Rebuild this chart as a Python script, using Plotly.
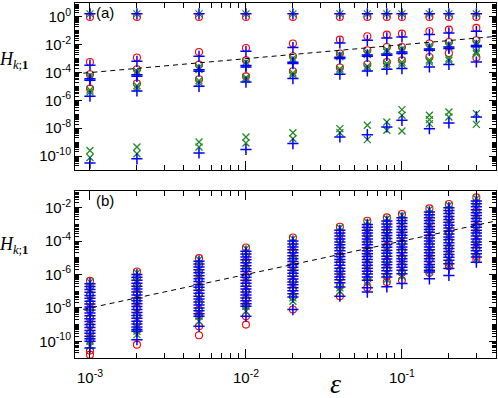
import plotly.graph_objects as go

# epsilon values (columns)
eps = [0.001, 0.002, 0.005, 0.01, 0.02, 0.04, 0.06, 0.08, 0.1, 0.15, 0.2, 0.3]

# panel (a): log10(H_k;1), one list per epsilon
red_a = [
    [0, -3.24, -4.12, -5.15],
    [0, -2.92, -3.76, -4.79],
    [0, -2.52, -3.42, -4.48],
    [0, -2.23, -3.12, -4.27],
    [0, -1.91, -2.83, -3.90],
    [0, -1.63, -2.63, -3.64],
    [0, -1.39, -2.40, -3.40],
    [0, -1.27, -2.16, -3.24],
    [0, -1.20, -2.16, -3.12],
    [0, -1.03, -1.91, -2.88],
    [0, -0.91, -1.80, -2.59],
    [0, -0.79, -1.68, -2.92],
]
green_a = [
    [0.22, -4.2, -4.35, -5.25, -5.4, -9.6, -10.1],
    [0.22, -3.9, -4.05, -4.95, -5.1, -9.35, -9.83],
    [0.22, -3.62, -3.78, -4.58, -4.72, -8.99, -9.35],
    [0.22, -3.25, -3.4, -4.35, -4.48, -8.63, -9.06],
    [0.22, -2.98, -3.12, -4.02, -4.15, -8.32, -8.75],
    [0.22, -2.72, -2.86, -3.74, -3.88, -8.03, -8.32],
    [0.22, -2.55, -2.7, -3.55, -3.68, -7.79, -8.82],
    [0.22, -2.35, -2.5, -3.35, -3.5, -7.55, -8.15],
    [0.22, -2.3, -2.45, -3.25, -3.4, -6.66, -7.07, -8.2],
    [0.22, -2.1, -2.25, -3.1, -3.25, -7.07, -7.38, -7.67],
    [0.22, -1.98, -2.12, -2.98, -3.12, -6.83, -7.19],
    [0.22, -1.85, -2.0, -2.5, -2.65, -6.95, -7.72],
]
blue_a = [
    [0.22, -3.47, -4.45, -4.55, -5.7, -10.5],
    [0.22, -3.19, -4.15, -4.27, -5.32, -10.2],
    [0.22, -2.83, -3.8, -3.9, -4.99, -9.78],
    [0.22, -2.47, -3.5, -3.6, -4.68, -9.52],
    [0.22, -2.2, -3.25, -3.35, -4.43, -9.1],
    [0.22, -1.87, -2.9, -2.99, -4.12, -8.63],
    [0.22, -1.68, -2.73, -2.83, -3.88, -8.46],
    [0.22, -1.51, -2.66, -2.76, -3.76, -7.91],
    [0.22, -1.44, -2.53, -2.63, -3.71, -7.43],
    [0.22, -1.27, -2.3, -2.4, -3.6, -8.03],
    [0.22, -1.15, -2.17, -2.27, -3.42, -7.62],
    [0.22, -1.03, -2.05, -2.15, -3.24, -7.19],
]

# panel (b): log10(H_k;1), one list per epsilon
red_b = [
    [-6.38, -6.75, -7.2, -7.7, -8.1, -8.6, -9.05, -9.5, -9.9, -10.55, -10.8],
    [-5.82, -6.2, -6.65, -7.1, -7.55, -8.0, -8.45, -8.9, -9.35, -10.2],
    [-5.02, -5.4, -5.85, -6.3, -6.75, -7.2, -7.65, -8.1, -8.45, -9.1, -9.64],
    [-4.38, -4.75, -5.2, -5.65, -6.1, -6.55, -7.0, -7.45, -7.85, -8.5, -9.0],
    [-3.78, -4.15, -4.6, -5.05, -5.5, -5.95, -6.4, -6.85, -7.3, -8.1],
    [-3.14, -3.5, -3.95, -4.4, -4.85, -5.3, -5.75, -6.2, -6.65, -7.3],
    [-2.78, -3.15, -3.6, -4.05, -4.5, -4.95, -5.4, -5.85, -6.3, -6.8],
    [-2.58, -2.95, -3.4, -3.85, -4.3, -4.75, -5.2, -5.65, -6.1, -6.45],
    [-2.38, -2.75, -3.2, -3.65, -4.1, -4.55, -5.0, -5.45, -5.9, -6.35],
    [-2.04, -2.4, -2.85, -3.3, -3.75, -4.2, -4.65, -5.1, -5.55, -5.9],
    [-1.78, -2.15, -2.6, -3.05, -3.5, -3.95, -4.4, -4.85, -5.3, -5.5],
    [-1.38, -1.75, -2.2, -2.65, -3.1, -3.55, -4.0, -4.45, -4.9, -5.1],
]
green_b = [
    [-6.45, -6.7, -7.0, -7.45, -7.9, -8.35, -8.8, -9.25, -9.7, -10.0, -10.3],
    [-5.9, -6.15, -6.5, -6.9, -7.35, -7.8, -8.25, -8.7, -9.15, -9.4, -9.6],
    [-5.1, -5.35, -5.7, -6.1, -6.55, -7.0, -7.45, -7.9, -8.3, -8.5, -8.8],
    [-4.45, -4.7, -5.05, -5.45, -5.9, -6.35, -6.8, -7.25, -7.7, -7.9, -8.2],
    [-3.85, -4.1, -4.45, -4.85, -5.3, -5.75, -6.2, -6.65, -7.1, -7.4, -7.6],
    [-3.2, -3.45, -3.8, -4.2, -4.65, -5.1, -5.55, -6.0, -6.45, -6.8, -7.0],
    [-2.85, -3.1, -3.45, -3.85, -4.3, -4.75, -5.2, -5.65, -6.1, -6.4],
    [-2.65, -2.9, -3.25, -3.65, -4.1, -4.55, -5.0, -5.45, -5.9, -6.3],
    [-2.45, -2.7, -3.05, -3.45, -3.9, -4.35, -4.8, -5.25, -5.7, -6.1],
    [-2.1, -2.35, -2.7, -3.1, -3.55, -4.0, -4.45, -4.9, -5.35, -5.8],
    [-1.85, -2.1, -2.45, -2.85, -3.3, -3.75, -4.2, -4.65, -5.1, -5.45],
    [-1.45, -1.7, -2.05, -2.45, -2.9, -3.35, -3.8, -4.25, -4.7, -5.05],
]
blue_b = [
    [-6.55, -6.72, -6.9, -7.07, -7.25, -7.42, -7.6, -7.77, -7.95, -8.12, -8.3, -8.47,
     -8.65, -8.82, -9.0, -9.17, -9.35, -9.52, -9.7, -9.85, -10.0, -10.4],
    [-6.0, -6.17, -6.35, -6.52, -6.7, -6.87, -7.05, -7.22, -7.4, -7.57, -7.75, -7.92,
     -8.1, -8.27, -8.45, -8.62, -8.8, -8.97, -9.15, -9.3, -9.4, -9.9],
    [-5.2, -5.37, -5.55, -5.72, -5.9, -6.07, -6.25, -6.42, -6.6, -6.77, -6.95, -7.12,
     -7.3, -7.47, -7.65, -7.82, -8.0, -8.17, -8.35, -8.5, -9.1],
    [-4.6, -4.77, -4.95, -5.12, -5.3, -5.47, -5.65, -5.82, -6.0, -6.17, -6.35, -6.52,
     -6.7, -6.87, -7.05, -7.22, -7.4, -7.57, -7.75, -7.9, -8.5],
    [-4.0, -4.17, -4.35, -4.52, -4.7, -4.87, -5.05, -5.22, -5.4, -5.57, -5.75, -5.92,
     -6.1, -6.27, -6.45, -6.62, -6.8, -6.97, -7.15, -7.35, -8.1],
    [-3.35, -3.52, -3.7, -3.87, -4.05, -4.22, -4.4, -4.57, -4.75, -4.92, -5.1, -5.27,
     -5.45, -5.62, -5.8, -5.97, -6.15, -6.32, -6.5, -6.75, -7.3],
    [-3.0, -3.17, -3.35, -3.52, -3.7, -3.87, -4.05, -4.22, -4.4, -4.57, -4.75, -4.92,
     -5.1, -5.27, -5.45, -5.62, -5.8, -5.97, -6.15, -6.35, -6.8, -7.05],
    [-2.8, -2.97, -3.15, -3.32, -3.5, -3.67, -3.85, -4.02, -4.2, -4.37, -4.55, -4.72,
     -4.9, -5.07, -5.25, -5.42, -5.6, -5.77, -5.95, -6.15, -6.74],
    [-2.6, -2.77, -2.95, -3.12, -3.3, -3.47, -3.65, -3.82, -4.0, -4.17, -4.35, -4.52,
     -4.7, -4.87, -5.05, -5.22, -5.4, -5.57, -5.75, -5.95, -6.54],
    [-2.25, -2.42, -2.6, -2.77, -2.95, -3.12, -3.3, -3.47, -3.65, -3.82, -4.0, -4.17,
     -4.35, -4.52, -4.7, -4.87, -5.05, -5.22, -5.4, -5.57, -5.75, -5.85, -6.26],
    [-2.0, -2.17, -2.35, -2.52, -2.7, -2.87, -3.05, -3.22, -3.4, -3.57, -3.75, -3.92,
     -4.1, -4.27, -4.45, -4.62, -4.8, -4.97, -5.15, -5.35, -5.64, -6.06],
    [-1.6, -1.77, -1.95, -2.12, -2.3, -2.47, -2.65, -2.82, -3.0, -3.17, -3.35, -3.52,
     -3.7, -3.87, -4.05, -4.22, -4.4, -4.57, -4.75, -4.95, -5.26],
]

# guide lines: H = 0.1*eps (a), H = 0.01*eps^2 (b)
line_eps = [10 ** -3.1, 10 ** -0.39]

RED = "#ff0000"
GREEN = "#228b22"
BLUE = "#0000ff"


def flat(cols):
    xs, ys = [], []
    for e, col in zip(eps, cols):
        for v in col:
            xs.append(e)
            ys.append(10 ** v)
    return xs, ys


def add_series(cols, symbol, color, size, width, xa, ya):
    xs, ys = flat(cols)
    fig.add_trace(go.Scatter(
        x=xs, y=ys, mode="markers", xaxis=xa, yaxis=ya, showlegend=False,
        marker=dict(symbol=symbol, size=size, color=color,
                    line=dict(color=color, width=width)),
    ))


fig = go.Figure()

add_series(red_a, "circle-open", RED, 7, 1.1, "x", "y")
add_series(green_a, "x-thin-open", GREEN, 7, 1.3, "x", "y")
add_series(blue_a, "cross-thin-open", BLUE, 8, 1.5, "x", "y")
fig.add_trace(go.Scatter(x=line_eps, y=[0.1 * e for e in line_eps], mode="lines",
                         xaxis="x", yaxis="y", showlegend=False,
                         line=dict(color="black", width=1, dash="5px,4px")))

add_series(red_b, "circle-open", RED, 7, 1.1, "x2", "y2")
add_series(green_b, "x-thin-open", GREEN, 7, 1.3, "x2", "y2")
add_series(blue_b, "cross-thin-open", BLUE, 8, 1.5, "x2", "y2")
fig.add_trace(go.Scatter(x=line_eps, y=[0.01 * e ** 2 for e in line_eps], mode="lines",
                         xaxis="x2", yaxis="y2", showlegend=False,
                         line=dict(color="black", width=1, dash="5px,4px")))

# ticks
x_major = [1e-3, 1e-2, 1e-1]
x_text = ["10<sup>-3</sup>", "10<sup>-2</sup>", "10<sup>-1</sup>"]
x_minor = [m * 10 ** d for d in (-3, -2, -1) for m in range(2, 10) if m * 10 ** d < 0.41]
y_major = [10.0 ** k for k in range(-10, 2, 2)]
y_text = ["10<sup>%d</sup>" % k for k in range(-10, 2, 2)]
y_minor = [m * 10.0 ** k for k in range(-12, 1) for m in range(1, 10)]

font = dict(family="Liberation Sans, Arial", size=15, color="black")

xcommon = dict(type="log", range=[-3.096, -0.397], showline=True, linecolor="black",
               linewidth=1, mirror="ticks", ticks="inside", ticklen=9, tickcolor="black",
               tickmode="array", tickvals=x_major, ticktext=x_text, showgrid=False,
               zeroline=False, tickfont=font, automargin=False,
               minor=dict(ticks="inside", ticklen=5, tickcolor="black",
                          tickmode="array", tickvals=x_minor, showgrid=False))
ycommon = dict(type="log", showline=True, linecolor="black", linewidth=1,
               mirror="ticks", ticks="inside", ticklen=7, tickcolor="black",
               tickmode="array", tickvals=y_major, ticktext=y_text, showgrid=False,
               zeroline=False, tickfont=font, automargin=False,
               minor=dict(ticks="inside", ticklen=4, tickcolor="black",
                          tickmode="array", tickvals=y_minor, showgrid=False))

fig.update_layout(
    width=498, height=398,
    margin=dict(l=75, r=2, t=3, b=40),
    paper_bgcolor="white", plot_bgcolor="white",
    xaxis=dict(xcommon, domain=[0, 1], anchor="y", showticklabels=False),
    yaxis=dict(ycommon, domain=[0.5296, 1], anchor="x", range=[-11, 1]),
    xaxis2=dict(xcommon, domain=[0, 1], anchor="y2", ticklabelstandoff=6),
    yaxis2=dict(ycommon, domain=[0, 0.4704], anchor="x2", range=[-11, -1]),
)

serif = "Liberation Serif, DejaVu Serif, serif"
ylab = "<i>H</i><sub><i>k</i>;<b>1</b></sub>"
fig.add_annotation(text=ylab, xref="paper", yref="paper", x=-0.145, y=0.839,
                   xanchor="center", yanchor="middle",
                   showarrow=False, font=dict(family=serif, size=18, color="black"))
fig.add_annotation(text=ylab, xref="paper", yref="paper", x=-0.145, y=0.318,
                   xanchor="center", yanchor="middle",
                   showarrow=False, font=dict(family=serif, size=18, color="black"))
fig.add_annotation(text="<i>ε</i>", xref="paper", yref="paper", x=0.618, y=-0.072,
                   xanchor="center", yanchor="middle",
                   showarrow=False, font=dict(family=serif, size=28, color="black"))
fig.add_annotation(text="(a)", xref="paper", yref="paper", x=0.045, y=0.972,
                   xanchor="left", yanchor="middle", showarrow=False, font=font)
fig.add_annotation(text="(b)", xref="paper", yref="paper", x=0.045, y=0.445,
                   xanchor="left", yanchor="middle", showarrow=False, font=font)

fig.write_html("out.html", config={"displayModeBar": False},
               post_script="document.body.style.margin='0';")
